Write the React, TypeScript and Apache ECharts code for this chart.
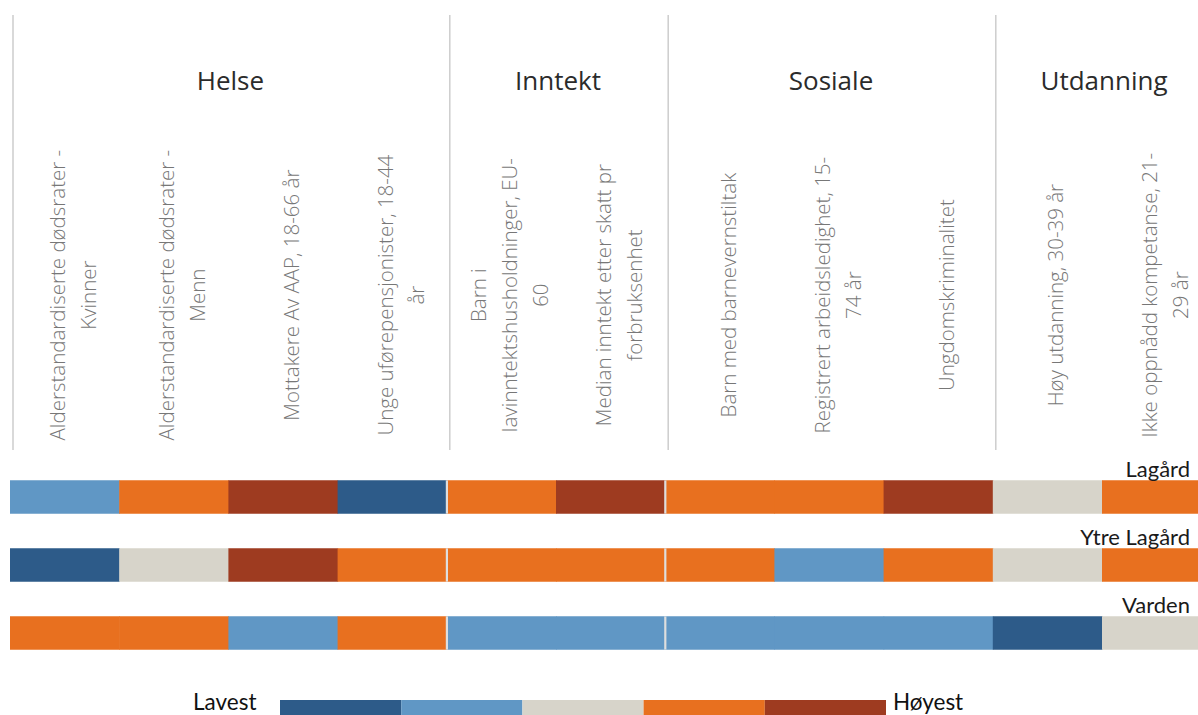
import React, { useEffect, useRef } from "react";
import * as echarts from "echarts";

// ---- data ----
const columns = [
  "Alderstandardiserte dødsrater -\nKvinner",
  "Alderstandardiserte dødsrater -\nMenn",
  "Mottakere Av AAP, 18-66 år",
  "Unge uførepensjonister, 18-44\når",
  "Barn i\nlavinntektshusholdninger, EU-\n60",
  "Median inntekt etter skatt pr\nforbruksenhet",
  "Barn med barnevernstiltak",
  "Registrert arbeidsledighet, 15-\n74 år",
  "Ungdomskriminalitet",
  "Høy utdanning, 30-39 år",
  "Ikke oppnådd kompetanse, 21-\n29 år",
];
const groups = ["Helse", "Inntekt", "Sosiale", "Utdanning"];
const groupStart = [0, 4, 6, 9];
const groupEnd = [3, 5, 8, 10];
const areas = ["Lagård", "Ytre Lagård", "Varden"];
// level 1 = Lavest ... 5 = Høyest
const lagard = [2, 4, 5, 1, 4, 5, 4, 4, 5, 3, 4];
const ytreLagard = [1, 3, 5, 4, 4, 4, 4, 2, 4, 3, 4];
const varden = [4, 4, 2, 4, 2, 2, 2, 2, 2, 1, 3];
const levels = [1, 2, 3, 4, 5];
const levelColors = ["#2d5b89", "#6097c5", "#d7d4ca", "#e8701f", "#9e3b20"];
const legendEnds = ["Lavest", "Høyest"];

export default function App() {
  const ref = useRef<HTMLDivElement>(null);
  useEffect(() => {
    if (!ref.current) return;
    const chart = echarts.init(ref.current, null, { renderer: "svg" });
    const rows = [lagard, ytreLagard, varden];
    const cellData: number[][] = [];
    rows.forEach((r, ri) => r.forEach((v, ci) => cellData.push([ci, ri, v])));

    const option: any = {
      animation: false,
      backgroundColor: "#ffffff",
      grid: [
        { left: 10, top: 463, width: 1201.2, height: 204, outerBoundsMode: "none" },
        { left: 10, top: 15, width: 1201.2, height: 435, outerBoundsMode: "none" },
      ],
      xAxis: [
        { type: "category", gridIndex: 0, data: columns, show: false },
        { type: "category", gridIndex: 1, data: columns, show: false },
      ],
      yAxis: [
        { type: "category", gridIndex: 0, data: areas, inverse: true, show: false },
        { type: "value", gridIndex: 1, min: 0, max: 1, show: false },
      ],
      visualMap: {
        type: "piecewise",
        seriesIndex: 0,
        dimension: 2,
        pieces: levels.map((l, i) => ({ value: l, color: levelColors[i] })),
        orient: "horizontal",
        left: 280,
        top: 700,
        padding: 0,
        itemWidth: 121.2,
        itemHeight: 24,
        itemGap: 0,
        itemSymbol: "rect",
        showLabel: false,
        selectedMode: false,
        hoverLink: false,
      },
      graphic: [
        {
          type: "text",
          left: 193,
          top: 689,
          style: { text: legendEnds[0], fontSize: 22.5, lineHeight: 24, fontFamily: "Lato", fill: "#111" },
        },
        {
          type: "text",
          left: 893,
          top: 689,
          style: { text: legendEnds[1], fontSize: 22.5, lineHeight: 24, fontFamily: "Lato", fill: "#111" },
        },
      ],
      series: [
        {
          type: "custom",
          xAxisIndex: 0,
          yAxisIndex: 0,
          data: cellData,
          clip: false,
          encode: { x: 0, y: 1 },
          renderItem: (params: any, api: any) => {
            const ci = api.value(0);
            const ri = api.value(1);
            const c = api.coord([ci, ri]);
            const s = api.size([1, 1]);
            const w = s[0];
            const h = s[1] * 0.49;
            const x0 = c[0] - w / 2;
            const y0 = c[1] - h / 2;
            const children: any[] = [
              { type: "rect", shape: { x: x0, y: y0, width: w + 0.6, height: h }, style: { fill: api.visual("color") } },
            ];
            if (ci > 0 && groupStart.indexOf(ci) >= 0 && ci !== 9) {
              children.push({ type: "rect", shape: { x: x0 - 1, y: y0, width: 2.2, height: h }, style: { fill: "#dedede" } });
            }
            return { type: "group", children };
          },
        },
        {
          type: "custom",
          xAxisIndex: 0,
          yAxisIndex: 0,
          data: areas.map((a, i) => [0, i]),
          clip: false,
          silent: true,
          encode: { x: 0, y: 1 },
          renderItem: (params: any, api: any) => {
            const ri = api.value(1);
            const c = api.coord([0, ri]);
            const s = api.size([1, 1]);
            const top = c[1] - (s[1] * 0.49) / 2;
            return {
              type: "text",
              x: api.getWidth() - 8,
              y: top - 1,
              style: {
                text: areas[ri],
                align: "right",
                verticalAlign: "bottom",
                fontSize: 22,
                fontFamily: "Lato",
                fill: "#1a1a1a",
              },
            };
          },
        },
        {
          type: "custom",
          xAxisIndex: 1,
          yAxisIndex: 1,
          data: groups.map((g, i) => [groupStart[i], groupEnd[i], i]),
          clip: false,
          silent: true,
          encode: { x: 0 },
          renderItem: (params: any, api: any) => {
            const s0 = api.value(0);
            const s1 = api.value(1);
            const gi = api.value(2);
            const bw = api.size([1, 0])[0];
            const pTop = api.coord([s0, 1]);
            const pBottom = api.coord([s0, 0]);
            const left = pTop[0] - bw / 2;
            const right = api.coord([s1, 1])[0] + bw / 2;
            const yLab = api.coord([s0, 0.85])[1];
            const lx = left + 3;
            return {
              type: "group",
              children: [
                { type: "line", shape: { x1: lx, y1: pTop[1], x2: lx, y2: pBottom[1] }, style: { stroke: "#cdcdcd", lineWidth: 1.5 } },
                {
                  type: "text",
                  x: (left + right) / 2 + 2,
                  y: yLab,
                  style: {
                    text: groups[gi],
                    align: "center",
                    verticalAlign: "middle",
                    fontSize: 26,
                    fontFamily: "Open Sans",
                    fill: "#2b2b2b",
                  },
                },
              ],
            };
          },
        },
        {
          type: "custom",
          xAxisIndex: 1,
          yAxisIndex: 1,
          data: columns.map((c, i) => [i, 0]),
          clip: false,
          silent: true,
          encode: { x: 0 },
          renderItem: (params: any, api: any) => {
            const ci = api.value(0);
            const p = api.coord([ci, 0.356]);
            return {
              type: "text",
              x: p[0] + 8,
              y: p[1],
              rotation: Math.PI / 2,
              style: {
                text: columns[ci],
                align: "center",
                verticalAlign: "middle",
                fontSize: 20.5,
                lineHeight: 31,
                fontFamily: "Open Sans",
                fontWeight: 300,
                fill: "#777777",
              },
            };
          },
        },
      ],
    };
    chart.setOption(option);
    return () => chart.dispose();
  }, []);
  return (
    <div
      ref={ref}
      style={{ position: "fixed", left: 0, top: 0, width: 1198, height: 715, background: "#fff" }}
    />
  );
}
